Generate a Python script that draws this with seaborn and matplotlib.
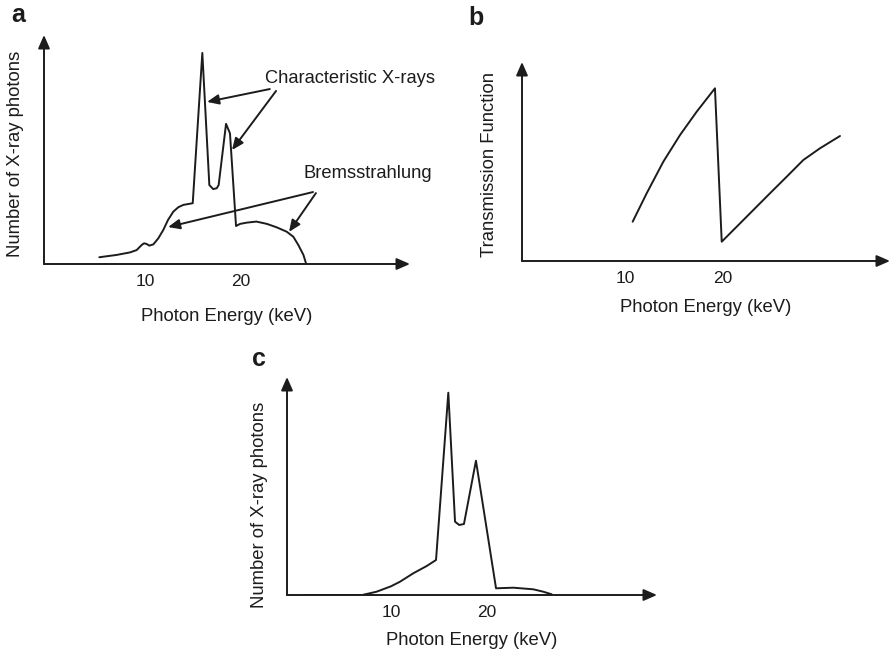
import matplotlib
matplotlib.use("Agg")
import matplotlib.pyplot as plt
import seaborn as sns

sns.set_style("white")
plt.rcParams['font.family'] = ['Liberation Sans', 'DejaVu Sans']

# ---- data ----
# Panel a: unfiltered spectrum (relative units, peak = 100)
a_energy = [5.24, 7.05, 8.44, 9.13, 9.65, 9.9, 10.17, 10.45, 10.87, 11.39, 11.9, 12.4, 12.95,
            13.47, 13.99, 14.97, 15.97, 16.7, 17.1, 17.47, 17.67, 18.44, 18.85, 19.48, 19.9,
            20.6, 21.6, 22.7, 23.7, 24.76, 25.45, 25.97, 26.5, 26.77]
a_counts = [3.2, 4.3, 5.5, 6.6, 9.0, 9.8, 9.5, 8.7, 9.3, 12.2, 16.1, 20.9, 24.8,
            26.9, 28.0, 28.8, 100.0, 37.4, 35.5, 35.9, 37.4, 66.4, 61.9, 18.0, 19.0,
            19.6, 20.1, 19.0, 17.4, 15.3, 12.9, 9.0, 4.3, 0.3]

# Panel b: transmission function (relative units)
b_energy = [10.72, 12.17, 13.89, 15.62, 17.34, 19.23, 19.93, 21.48, 23.2, 24.92, 26.65,
            28.37, 30.09, 32.16]
b_trans = [39.3, 67.7, 99.3, 126.0, 149.3, 172.7, 19.3, 34.3, 51.0, 67.7, 84.3,
           101.0, 112.7, 125.0]

# Panel c: filtered spectrum (relative units)
c_energy = [1.0, 7.0, 8.5, 10.0, 10.94, 12.32, 13.72, 14.69, 15.97, 16.67, 17.11, 17.6,
            18.85, 20.94, 22.74, 24.82, 25.86, 26.74]
c_counts = [0, 0, 3.3, 8.7, 13.3, 21.7, 29.0, 35.0, 202.3, 73.3, 70.0, 71.0,
            134.3, 6.7, 7.3, 5.7, 3.3, 0.7]

xticks = [10, 20]
xtick_labels = ["10", "20"]
xlabel = "Photon Energy (keV)"
ylabel_a = "Number of X-ray photons"
ylabel_b = "Transmission Function"

W, H = 891, 652
fig = plt.figure(figsize=(W / 100, H / 100), dpi=100)
INK = "#1c1c1c"
FS_LAB = 13.3
FS_TICK = 12.5


def make_axes(left, right, bottom, top):
    # pixel coords (top-left origin) -> figure fraction
    return fig.add_axes([left / W, 1 - bottom / H, (right - left) / W, (bottom - top) / H])


def style(ax, xlim, ylim, ylabel, ylab_px, ylab_y, xlab_px):
    ax.set_xlim(*xlim)
    ax.set_ylim(*ylim)
    for s in ax.spines.values():
        s.set_visible(False)
    ax.set_facecolor("none")
    ax.set_xticks(xticks)
    ax.set_xticklabels(xtick_labels, fontsize=FS_TICK, color=INK)
    ax.set_yticks([])
    ax.tick_params(axis="x", direction="in", length=7, width=1.2, color=INK, pad=7)
    arrow = dict(arrowstyle="-|>,head_length=0.8,head_width=0.35", color=INK, lw=1.4,
                 shrinkA=0, shrinkB=0)
    ax.annotate("", xy=(1, 0), xytext=(0, 0), xycoords="axes fraction", arrowprops=arrow)
    ax.annotate("", xy=(0, 1), xytext=(0, 0), xycoords="axes fraction", arrowprops=arrow)
    ax.set_xlabel(xlabel, fontsize=FS_LAB, color=INK)
    ax.set_ylabel(ylabel, fontsize=FS_LAB, color=INK)
    bb = ax.get_position()
    wpx, hpx = bb.width * W, bb.height * H
    ax.xaxis.set_label_coords(0.5, -xlab_px / hpx)
    ax.yaxis.set_label_coords(-ylab_px / wpx, ylab_y)


# ---- panel a ----
axa = make_axes(44, 410, 264, 35)
sns.lineplot(x=a_energy, y=a_counts, ax=axa, color=INK, lw=1.4, estimator=None, sort=False)
style(axa, (-0.52, 37.6), (0, 108.5), ylabel_a, 20, 0.48, 44)
ann = dict(arrowstyle="-|>,head_length=0.7,head_width=0.3", color=INK, lw=1.4,
           shrinkA=0, shrinkB=0)
axa.text(22.5, 85.8, "Characteristic X-rays", fontsize=13.2, color=INK, ha="left", va="baseline")
axa.annotate("", xy=(16.46, 76.8), xytext=(23.0, 82.9), arrowprops=ann)
axa.annotate("", xy=(19.06, 54.0), xytext=(23.65, 82.0), arrowprops=ann)
axa.text(26.46, 40.8, "Bremsstrahlung", fontsize=13.2, color=INK, ha="left", va="baseline")
axa.annotate("", xy=(12.4, 17.5), xytext=(27.5, 34.1), arrowprops=ann)
axa.annotate("", xy=(25.0, 15.2), xytext=(27.8, 33.6), arrowprops=ann)
fig.text(11 / W, 1 - 15 / H, "a", fontsize=18, fontweight="bold", color=INK, va="center", ha="left")

# ---- panel b ----
axb = make_axes(522, 890, 261, 62)
sns.lineplot(x=b_energy, y=b_trans, ax=axb, color=INK, lw=1.4, estimator=None, sort=False)
style(axb, ((522 - 529) / 9.67, (890 - 529) / 9.67), (0, 199), ylabel_b, 24, 0.487, 38)
fig.text(468 / W, 1 - 18 / H, "b", fontsize=18, fontweight="bold", color=INK, va="center", ha="left")

# ---- panel c ----
axc = make_axes(287, 657, 595, 377)
sns.lineplot(x=c_energy, y=c_counts, ax=axc, color=INK, lw=1.4, estimator=None, sort=False)
style(axc, ((287 - 295) / 9.6, (657 - 295) / 9.6), (0, 218), ylabel_a, 19, 0.413, 37)
fig.text(252 / W, 1 - 359 / H, "c", fontsize=18, fontweight="bold", color=INK, va="center", ha="left")

fig.savefig("out.png", dpi=100, facecolor="white")
